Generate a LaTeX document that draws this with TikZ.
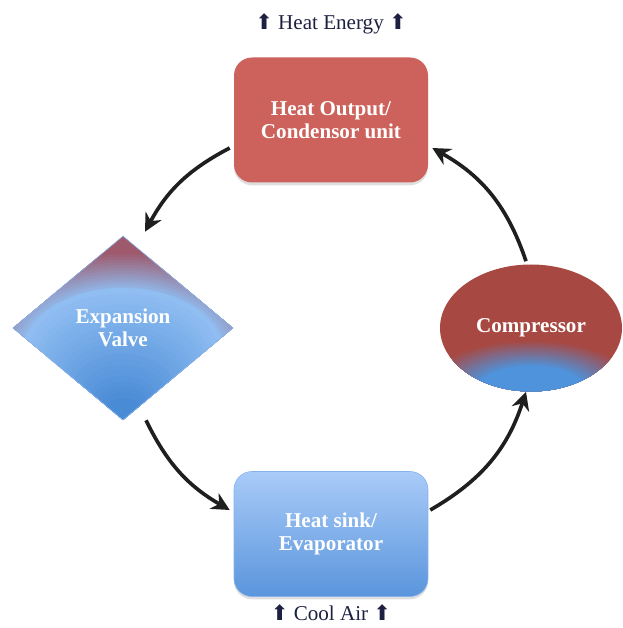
\documentclass[tikz,border=0pt]{standalone}
\usepackage{fontspec}
\setmainfont{Liberation Serif}
\newfontfamily\arrowfont{DejaVu Sans}
\usetikzlibrary{shapes.geometric,arrows.meta,positioning,shadows}

\definecolor{condred}{HTML}{CC625B}
\definecolor{evaptop}{HTML}{A9CBF8}
\definecolor{evapbot}{HTML}{5A95DC}
\definecolor{evapline}{HTML}{86B1EC}
\definecolor{valvedark}{HTML}{4A8BD6}
\definecolor{valvelight}{HTML}{90BEF2}
\definecolor{valvered}{HTML}{9E5A6C}
\definecolor{compred}{HTML}{A84842}
\definecolor{compblue}{HTML}{4E93DB}
\definecolor{labelink}{HTML}{1E2042}

\begin{document}
\begin{tikzpicture}
\tikzstyle{txt}=[align=center,text=white,inner sep=0pt,font=\fontsize{15}{16}\selectfont\bfseries]
\tikzstyle{unit}=[txt,rectangle,rounded corners=0.45cm,minimum width=4.85cm,minimum height=3.125cm,drop shadow={shadow xshift=0pt,shadow yshift=-2pt,opacity=0.25}]
\tikzstyle{flow}=[line width=2.6pt,draw=black!88,-{Stealth[length=0.45cm,width=0.45cm]}]
\tikzstyle{note}=[font=\fontsize{15}{16}\selectfont,text=labelink]

\useasboundingbox (0,0) rectangle (15.55,15.7);

% the four units of the cycle
\node[unit,fill=condred] (cond) at (8.275,12.7) {Heat Output/\\Condensor unit};
\node[unit,top color=evaptop,bottom color=evapbot,draw=evapline,thin] (evap) at (8.275,2.35) {Heat sink/\\Evaporator};
\node[txt,shape=diamond,minimum width=5.5cm,minimum height=4.6cm,fill=valvered,draw=evapline,thin,
  path picture={
    \foreach \i in {0,...,14}{
      \pgfmathsetmacro\fr{0.95-\i*0.35/14}
      \pgfmathsetmacro\mx{\i*100/14}
      \fill[valvelight!\mx!valvered] ([yshift=-0.7cm]path picture bounding box.center) ellipse ({4.2*\fr} and {2.75*\fr});
    }
    \foreach \i in {0,...,20}{
      \pgfmathsetmacro\fr{0.6-\i*0.5/20}
      \pgfmathsetmacro\mx{\i*5}
      \pgfmathsetmacro\yc{-2.3+2.75*\fr}
      \fill[valvedark!\mx!valvelight] ([yshift=\yc cm]path picture bounding box.center) ellipse ({4.2*\fr} and {2.75*\fr});
    }
  }] (valve) at (3.075,7.5) {Expansion\\Valve};
\node[txt,shape=ellipse,minimum width=4.55cm,minimum height=3.175cm,fill=compred,
  path picture={
    \foreach \i in {0,...,14}{
      \pgfmathsetmacro\fr{1-\i*0.5/14}
      \pgfmathsetmacro\mx{\i*100/14}
      \fill[compblue!\mx!compred] ([yshift=-1.59cm]path picture bounding box.center) ellipse ({2.8*\fr} and {1.3*\fr});
    }
  }] (comp) at (13.275,7.5) {Compressor};

\node[note,above=0.45cm of cond] (heat) {{\arrowfont\fontsize{15}{15}\selectfont ⬆} Heat Energy {\arrowfont\fontsize{15}{15}\selectfont ⬆}};
\node[note,below=0.08cm of evap] (air) {{\arrowfont\fontsize{15}{15}\selectfont ⬆} Cool Air {\arrowfont\fontsize{15}{15}\selectfont ⬆}};

% flow of the refrigerant
\draw[flow] ([shift={(-0.1,-0.7)}]cond.west) to[bend right=17] ([shift={(0.55,0.1)}]valve.north);
\draw[flow] ([shift={(0.575,0)}]valve.south) to[bend right=17] ([shift={(-0.1,0.6)}]evap.west);
\draw[flow] ([shift={(0.05,0.6)}]evap.east) to[bend right=21] ([shift={(-0.125,0)}]comp.south);
\draw[flow] ([shift={(-0.125,0.075)}]comp.north) to[bend right=21] ([shift={(0.1,-0.7)}]cond.east);
\end{tikzpicture}
\end{document}
